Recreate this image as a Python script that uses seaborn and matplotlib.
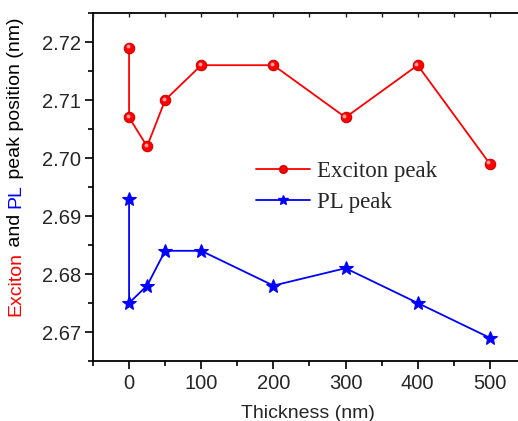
import matplotlib
matplotlib.use("Agg")
import matplotlib.pyplot as plt
import matplotlib.transforms as mtransforms
from matplotlib.ticker import MultipleLocator, FormatStrFormatter
import seaborn as sns
import pandas as pd

# Peak positions versus film thickness
thickness = [0, 0, 25, 50, 100, 200, 300, 400, 500]
exciton_peak = [2.719, 2.707, 2.702, 2.710, 2.716, 2.716, 2.707, 2.716, 2.699]
pl_peak = [2.693, 2.675, 2.678, 2.684, 2.684, 2.678, 2.681, 2.675, 2.669]
series_names = ["Exciton peak", "PL peak"]

df = pd.concat([
    pd.DataFrame({"Thickness": thickness, "Peak": exciton_peak, "Series": series_names[0]}),
    pd.DataFrame({"Thickness": thickness, "Peak": pl_peak, "Series": series_names[1]}),
], ignore_index=True)

sns.set_style("ticks")
plt.rcParams["font.family"] = ["Liberation Sans", "DejaVu Sans"]

W, H = 518, 421
fig = plt.figure(figsize=(W / 100, H / 100), dpi=100)
ax = fig.add_axes([93 / W, 60 / H, 430 / W, 348 / H])

palette = {series_names[0]: "#ff0000", series_names[1]: "#0000ff"}
sns.lineplot(data=df, x="Thickness", y="Peak", hue="Series", style="Series",
             markers={series_names[0]: "o", series_names[1]: "*"},
             dashes=False, sort=False, estimator=None, palette=palette,
             linewidth=1.3, markersize=8, markeredgewidth=0.8,
             legend=False, ax=ax)
for line, ms, mec in zip(ax.lines, (7.5, 10), ("#d40000", "#0000ff")):
    line.set_markersize(ms)
    line.set_markeredgecolor(mec)

# small highlight on the sphere-like markers
shift = mtransforms.ScaledTranslation(-1.0 / 72, 1.0 / 72, fig.dpi_scale_trans)
ax.plot(thickness, exciton_peak, ls="none", marker="o", ms=2.8, mfc="#ffa0a0",
        mec="none", transform=ax.transData + shift, zorder=5)

# legend with serif labels and compact markers
leg_handles = [
    plt.Line2D([], [], color="#ff0000", lw=1.3, marker="o", ms=5.5, mec="#d40000"),
    plt.Line2D([], [], color="#0000ff", lw=1.3, marker="*", ms=7),
]
ax.legend(leg_handles, series_names, loc="upper left",
          bbox_to_anchor=(256 / W, 1 - 161 / H), bbox_transform=fig.transFigure,
          frameon=False, borderpad=0, borderaxespad=0,
          handlelength=2.35, handletextpad=0.3, labelspacing=0.42,
          prop={"family": "Liberation Serif", "size": 16.5})

ax.set_xlim(-50, 546)
ax.set_ylim(2.665, 2.725)
ax.xaxis.set_major_locator(MultipleLocator(100))
ax.xaxis.set_minor_locator(MultipleLocator(50))
ax.yaxis.set_major_locator(MultipleLocator(0.01))
ax.yaxis.set_minor_locator(MultipleLocator(0.005))
ax.yaxis.set_major_formatter(FormatStrFormatter("%.2f"))
ax.tick_params(which="major", direction="out", length=6, width=1.2, labelsize=14.5, color="black")
ax.tick_params(axis="y", which="major", pad=2.5)
ax.tick_params(which="minor", direction="out", length=3.5, width=1.2, color="black")
ax.spines["right"].set_visible(False)
for s in ("left", "bottom", "top"):
    ax.spines[s].set_linewidth(1.3)
    ax.spines[s].set_color("black")

# inward ticks along the top edge
top = ax.twiny()
top.set_xlim(ax.get_xlim())
top.xaxis.set_major_locator(MultipleLocator(100))
top.xaxis.set_minor_locator(MultipleLocator(50))
top.tick_params(axis="x", which="both", direction="in", length=3, width=1.0,
                top=True, bottom=False, labeltop=False, labelbottom=False)
for s in top.spines.values():
    s.set_visible(False)

ax.set_xlabel("Thickness (nm)", fontsize=14, labelpad=8.5)
ax.set_ylabel("")

# multicoloured y-axis title built from consecutive rotated pieces
pieces = [("Exciton", "#ff0000"), (" and ", "black"), ("PL", "#0000ff"), (" peak position (nm)", "black")]
fig.canvas.draw()
renderer = fig.canvas.get_renderer()
texts = [fig.text(20 / W, 0, s, color=c, rotation=90, fontsize=14,
                  ha="left", va="baseline", rotation_mode="anchor") for s, c in pieces]
heights = [t.get_window_extent(renderer).height for t in texts]
centre = (H - 167) / H * fig.bbox.height
pos = centre - sum(heights) / 2
for t, h in zip(texts, heights):
    t.set_position((20 / W, pos / fig.bbox.height))
    pos += h

fig.savefig("out.png", dpi=100)
